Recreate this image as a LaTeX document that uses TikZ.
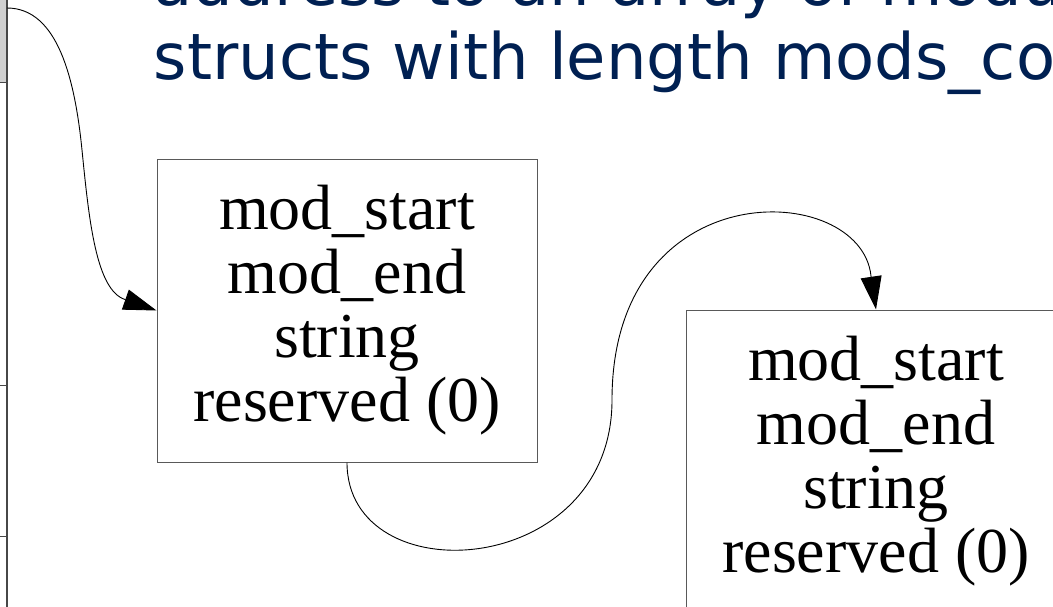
\documentclass[tikz,border=0pt]{standalone}
\usepackage{fontspec}
\setmainfont{Liberation Serif}
\newfontfamily\titlefont{DejaVu Sans}
\usetikzlibrary{arrows.meta}
\definecolor{titleblue}{HTML}{002052}
\definecolor{cellgray}{HTML}{D0D0D0}
\definecolor{tableline}{HTML}{474747}
\begin{document}
\begin{tikzpicture}[x=1pt,y=-1pt,
  recbox/.style={draw=black!65, line width=1pt, minimum width=380pt, minimum height=303pt,
    inner sep=0pt, align=center, font=\fontsize{64}{64}\selectfont},
  link/.style={draw=black, line width=0.9pt, -{Triangle[length=33pt,width=21pt]}},
  titletext/.style={anchor=base west, inner sep=0pt, text=titleblue,
    font=\titlefont\fontsize{64}{73}\selectfont},
  tablerule/.style={draw=tableline, line width=1.3pt}]
\useasboundingbox (0,0) rectangle (1053,606);
\clip (0,0) rectangle (1053,606);
% partial table at the left edge
\fill[cellgray] (-5,-5) rectangle (7,82.5);
\draw[tablerule] (7,-5) -- (7,611);
\draw[tablerule] (-5,82.5) -- (7,82.5);
\draw[tablerule] (-5,385.5) -- (7,385.5);
\draw[tablerule] (-5,536.5) -- (7,536.5);
\coordinate (src) at (7,8);
% title text
\node[titletext] (title1) at (153.5,5) {address to an array of module};
\node[titletext] (title2) at (153.5,79.5) {structs with length mods\_count};
% boxes
\node[recbox] (b1) at (347,310.5) {mod\_start\\mod\_end\\string\\reserved (0)};
\node[recbox] (b2) at (876,461.5) {mod\_start\\mod\_end\\string\\reserved (0)};
% connectors
\coordinate (e1) at (125,299.5);
\coordinate (e2) at (871,276);
\draw[link] (src) .. controls (58,8) and (75,80) .. (82,150)
  .. controls (89,220) and (96,290) .. (e1) -- (b1.west);
\draw[link] (b1.south) .. controls (347,595) and (612,580) .. (612,400)
  .. controls (612,170) and (861,180) .. (e2) -- (b2.north);
\end{tikzpicture}
\end{document}
